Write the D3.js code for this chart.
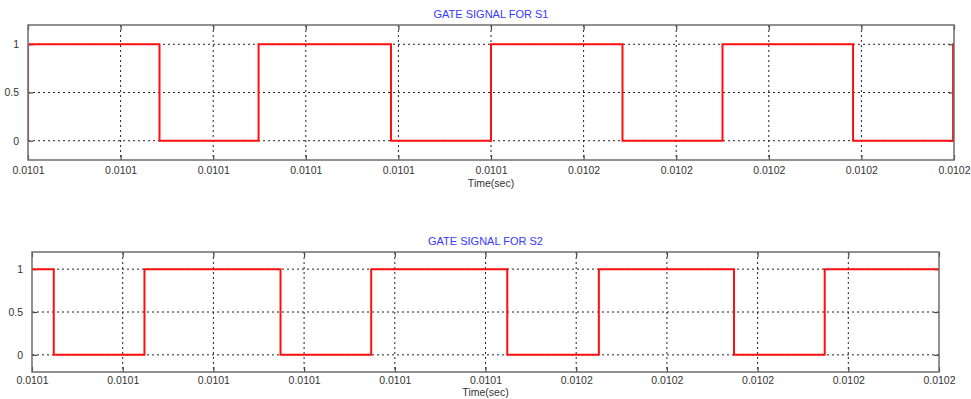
<!DOCTYPE html>
<html>
<head>
<meta charset="utf-8">
<script src="https://cdn.jsdelivr.net/npm/d3@7/dist/d3.min.js"></script>
<style>
  html, body { margin: 0; padding: 0; background: #fff; }
  svg { display: block; font-family: "Liberation Sans", Arial, sans-serif; }
</style>
</head>
<body>
<svg id="chart" width="971" height="399"></svg>
<script>
// Time axis (seconds) and its scope-style labels
const timeTicks = [0.01010, 0.01011, 0.01012, 0.01013, 0.01014, 0.01015,
                   0.01016, 0.01017, 0.01018, 0.01019, 0.01020];
const timeTickLabels = ["0.0101", "0.0101", "0.0101", "0.0101", "0.0101", "0.0101",
                        "0.0102", "0.0102", "0.0102", "0.0102", "0.0102"];
const levelTicks = [0, 0.5, 1];
const levelTickLabels = ["0", "0.5", "1"];

// Gate signal S1: switching instants and logic level held after each instant
const s1Time  = [0.0101000, 0.0101000, 0.0101142, 0.0101249, 0.0101392, 0.0101500,
                 0.0101642, 0.0101750, 0.0101891, 0.0101999, 0.0102000];
const s1Level = [0, 1, 0, 1, 0, 1, 0, 1, 0, 1, 1];

// Gate signal S2
const s2Time  = [0.0101000, 0.0101024, 0.0101124, 0.0101274, 0.0101374, 0.0101524,
                 0.0101625, 0.0101774, 0.0101874, 0.0102000];
const s2Level = [1, 0, 1, 0, 1, 0, 1, 0, 1, 1];

const titles = ["GATE SIGNAL FOR S1", "GATE SIGNAL FOR S2"];
const xLabel = "Time(sec)";

const panels = [
  { title: titles[0], time: s1Time, level: s1Level,
    box: { left: 28, right: 954, top: 25, bottom: 160 },
    titleY: 18, tickLabelY: 174, xLabelY: 187 },
  { title: titles[1], time: s2Time, level: s2Level,
    box: { left: 32, right: 939, top: 252, bottom: 372 },
    titleY: 245, tickLabelY: 384, xLabelY: 396 }
];

const svg = d3.select("#chart");

panels.forEach((p, i) => {
  const b = p.box;
  const x = d3.scaleLinear().domain([timeTicks[0], timeTicks[timeTicks.length - 1]]).range([b.left, b.right]);
  const y = d3.scaleLinear().domain([-0.2, 1.2]).range([b.bottom, b.top]);
  const g = svg.append("g");
  const cx = (b.left + b.right) / 2;

  // dotted grid
  g.append("g").selectAll("line").data(timeTicks.slice(1, -1)).join("line")
    .attr("x1", d => x(d)).attr("x2", d => x(d))
    .attr("y1", b.top).attr("y2", b.bottom)
    .attr("stroke", "#222").attr("stroke-width", 1).attr("stroke-dasharray", "2,3");
  g.append("g").selectAll("line").data(levelTicks).join("line")
    .attr("x1", b.left).attr("x2", b.right)
    .attr("y1", d => y(d)).attr("y2", d => y(d))
    .attr("stroke", "#222").attr("stroke-width", 1).attr("stroke-dasharray", "2,3");

  // axes with inward ticks on all four sides
  const xb = d3.axisBottom(x).tickValues(timeTicks).tickSize(-5).tickFormat((d, k) => timeTickLabels[k]).tickPadding(9);
  const xt = d3.axisTop(x).tickValues(timeTicks).tickSize(-5).tickFormat("");
  const yl = d3.axisLeft(y).tickValues(levelTicks).tickSize(-5).tickFormat((d, k) => levelTickLabels[k]).tickPadding(9);
  const yr = d3.axisRight(y).tickValues(levelTicks).tickSize(-5).tickFormat("");

  const styleAxis = sel => {
    sel.select(".domain").remove();
    sel.selectAll(".tick line").attr("stroke", "#444").attr("stroke-width", 1.2);
    sel.selectAll(".tick text").attr("fill", "#333").attr("font-size", "10.5px")
      .attr("font-family", "'Liberation Sans', Arial, sans-serif");
  };
  const ax = g.append("g").attr("transform", `translate(0,${b.bottom})`).call(xb).call(styleAxis);
  ax.selectAll(".tick text").attr("dy", null).attr("y", p.tickLabelY - b.bottom);
  g.append("g").attr("transform", `translate(0,${b.top})`).call(xt).call(styleAxis);
  g.append("g").attr("transform", `translate(${b.left},0)`).call(yl).call(styleAxis);
  g.append("g").attr("transform", `translate(${b.right},0)`).call(yr).call(styleAxis);

  // signal trace, clipped to the plot box
  const clipId = "clip" + i;
  svg.append("clipPath").attr("id", clipId).append("rect")
    .attr("x", b.left).attr("y", b.top).attr("width", b.right - b.left).attr("height", b.bottom - b.top);
  const pts = p.time.map((t, k) => [t, p.level[k]]);
  const line = d3.line().x(d => x(d[0])).y(d => y(d[1])).curve(d3.curveStepAfter);
  g.append("path").datum(pts)
    .attr("clip-path", `url(#${clipId})`)
    .attr("d", line)
    .attr("fill", "none").attr("stroke", "#ff1010").attr("stroke-width", 2);

  // frame
  g.append("rect")
    .attr("x", b.left).attr("y", b.top).attr("width", b.right - b.left).attr("height", b.bottom - b.top)
    .attr("fill", "none").attr("stroke", "#6e6e6e").attr("stroke-width", 1.5);

  // titles
  g.append("text").attr("x", cx).attr("y", p.titleY).attr("text-anchor", "middle")
    .attr("font-size", "11px").attr("fill", "#3838ff").text(p.title);
  g.append("text").attr("x", cx).attr("y", p.xLabelY).attr("text-anchor", "middle")
    .attr("font-size", "10.5px").attr("fill", "#333").text(xLabel);
});
</script>
</body>
</html>
